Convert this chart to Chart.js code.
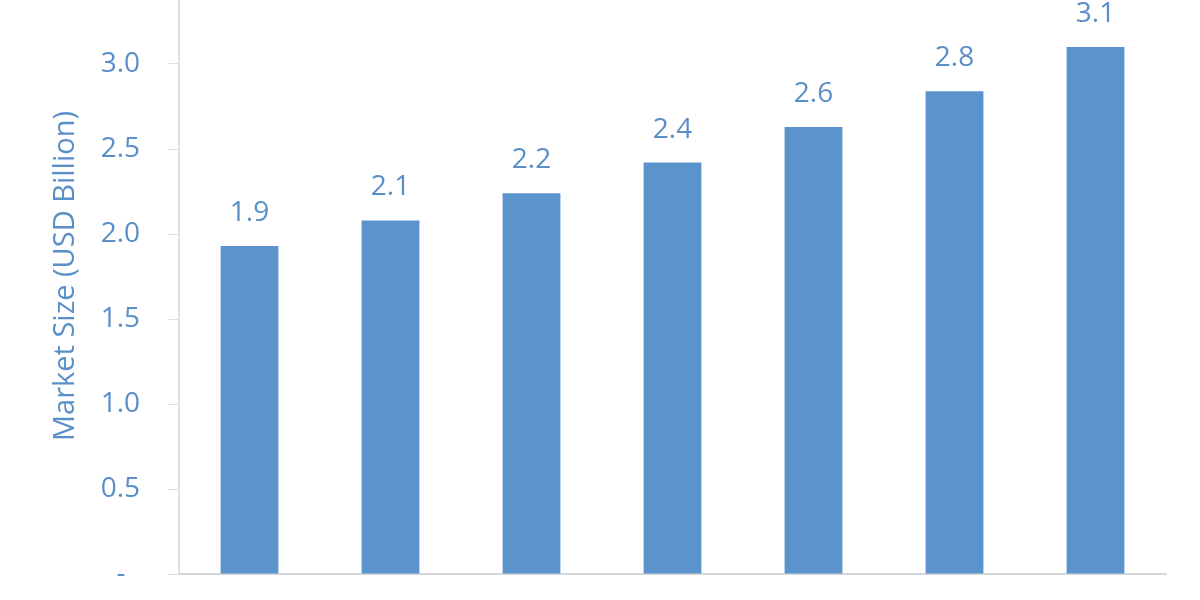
<!DOCTYPE html>
<html>
<head>
<meta charset="utf-8">
<script src="https://cdn.jsdelivr.net/npm/chart.js@4/dist/chart.umd.min.js"></script>
<style>
  html, body { margin: 0; padding: 0; background: #ffffff; }
  #wrap { width: 1200px; height: 600px; }
</style>
</head>
<body>
<div id="wrap"><canvas id="chart" width="1200" height="600"></canvas></div>
<script>
// chart values
const categories = ['1', '2', '3', '4', '5', '6', '7'];
const marketSize = [1.93, 2.08, 2.24, 2.42, 2.63, 2.84, 3.10];
const yTicks = [0, 0.5, 1.0, 1.5, 2.0, 2.5, 3.0];
const yTitle = 'Market Size (USD Billion)';

const TEXT_COLOR = '#5A8FC8';
const BAR_COLOR = '#5B93CC';
const FONT = '"Open Sans", "Noto Sans", sans-serif';

// value labels above bars
const barLabels = {
    id: 'barLabels',
    afterDatasetsDraw(chart) {
        const ctx = chart.ctx;
        const meta = chart.getDatasetMeta(0);
        ctx.save();
        ctx.font = '28px ' + FONT;
        ctx.fillStyle = TEXT_COLOR;
        ctx.textAlign = 'center';
        ctx.textBaseline = 'middle';
        meta.data.forEach((bar, i) => {
            ctx.fillText(marketSize[i].toFixed(1), bar.x, bar.y - 33);
        });
        ctx.restore();
    }
};

// rotated axis title (sits a little above the middle of the axis)
const axisTitle = {
    id: 'axisTitle',
    afterDraw(chart) {
        const ctx = chart.ctx;
        ctx.save();
        ctx.translate(66, 276);
        ctx.rotate(-Math.PI / 2);
        ctx.font = '29px ' + FONT;
        ctx.fillStyle = TEXT_COLOR;
        ctx.textAlign = 'center';
        ctx.textBaseline = 'middle';
        ctx.fillText(yTitle, 0, 0);
        ctx.restore();
    }
};

new Chart(document.getElementById('chart').getContext('2d'), {
    type: 'bar',
    data: {
        labels: categories,
        datasets: [{
            data: marketSize,
            backgroundColor: BAR_COLOR,
            borderWidth: 0,
            barPercentage: 0.41,
            categoryPercentage: 1.0
        }]
    },
    options: {
        responsive: false,
        animation: false,
        devicePixelRatio: 1,
        layout: { padding: { top: 0, right: 34, bottom: 26, left: 0 } },
        plugins: {
            legend: { display: false },
            tooltip: { enabled: false }
        },
        scales: {
            x: {
                ticks: { display: false },
                grid: { display: false },
                border: { color: '#d4d8db', width: 2 },
                afterFit(axis) { axis.height = 0; }
            },
            y: {
                min: 0,
                max: 574 / 170,
                afterBuildTicks(axis) {
                    axis.ticks = yTicks.map(v => ({ value: v }));
                },
                afterFit(axis) {
                    axis.width = 179;
                    axis.paddingTop = 0;
                    axis.paddingBottom = 0;
                },
                ticks: {
                    color: TEXT_COLOR,
                    // tiny line height so the labels add no layout padding
                    font: { family: FONT, size: 28, lineHeight: 0.05 },
                    padding: 28,
                    callback: v => (v === 0 ? '-  ' : v.toFixed(1))
                },
                grid: {
                    drawOnChartArea: false,
                    drawTicks: true,
                    tickLength: 11,
                    color: '#d9e0e6'
                },
                border: { color: '#d9e0e6', width: 2 }
            }
        }
    },
    plugins: [barLabels, axisTitle]
});
</script>
</body>
</html>
